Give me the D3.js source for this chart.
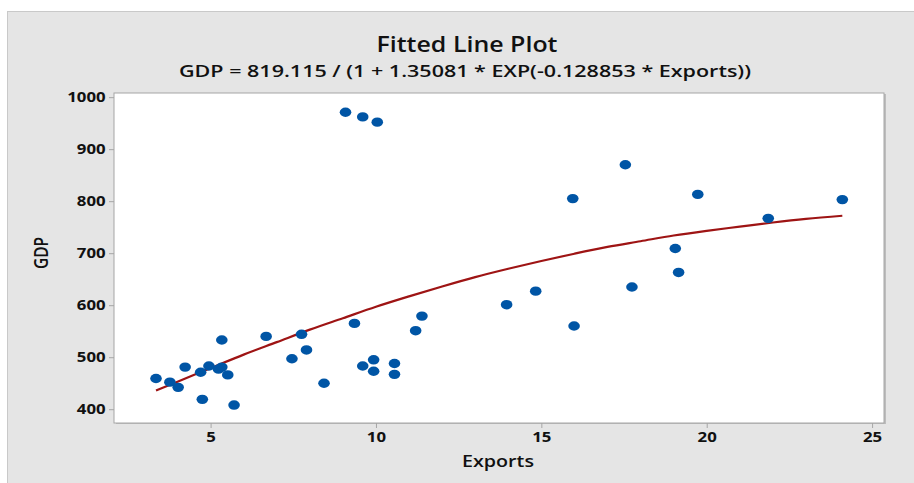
<!DOCTYPE html>
<html>
<head>
<meta charset="utf-8">
<script src="https://cdn.jsdelivr.net/npm/d3@7"></script>
<style>
  body { margin: 0; background: #fff; }
  #chart { width: 914px; height: 483px; }
  text { font-family: "Open Sans", "Noto Sans", sans-serif; }
</style>
</head>
<body>
<div id="chart"></div>
<script>
// observations (Exports, GDP)
const exports_ = [3.35, 3.77, 4.02, 4.23, 4.70, 4.75, 4.95, 5.24, 5.34, 5.34, 5.52, 5.71, 6.68,
  7.46, 7.75, 7.90, 8.43, 9.35, 9.60, 9.93, 9.93, 10.56, 10.56, 11.20, 11.39, 9.08, 9.60, 10.04,
  13.95, 14.83, 15.95, 15.99, 17.54, 17.74, 19.05, 19.15, 19.73, 21.86, 24.10];
const gdp = [459, 452, 442, 481, 471, 419, 483, 477, 481, 533, 466, 408, 540,
  497, 544, 514, 450, 565, 483, 495, 473, 488, 467, 551, 579, 971, 962, 952,
  601, 627, 805, 560, 870, 635, 709, 663, 813, 767, 803];

// fitted curve
const fitX = [3.35, 4, 5, 6, 7, 8, 9, 10, 11, 12, 13, 14, 15, 16, 17, 18, 19, 20, 21, 22, 23, 24.1];
const fitY = [436, 453, 479, 505, 529, 553, 575, 597, 617, 636, 654, 670, 685, 699, 712, 723, 734, 743, 751, 759, 766, 772];

const xTicks = [5, 10, 15, 20, 25];
const yTicks = [400, 500, 600, 700, 800, 900, 1000];

const title = "Fitted Line Plot";
const subtitle = "GDP = 819.115 / (1 + 1.35081 * EXP(-0.128853 * Exports))";

const W = 914, H = 483;
const plot = { left: 114, top: 93, right: 884, bottom: 423 };

const svg = d3.select("#chart").append("svg")
  .attr("width", W)
  .attr("height", H);

// outer gray panel
svg.append("rect")
  .attr("x", 7.5).attr("y", 11.5)
  .attr("width", W - 7).attr("height", H - 11)
  .attr("fill", "#e5e5e5")
  .attr("stroke", "#c9c9c9");

const x = d3.scaleLinear().domain([2.08, 25.36]).range([plot.left, plot.right]);
const y = d3.scaleLinear().domain([373.5, 1008]).range([plot.bottom, plot.top]);

// plot area with a little shadow on the right
svg.append("rect")
  .attr("x", plot.left + 2).attr("y", plot.top + 1)
  .attr("width", plot.right - plot.left).attr("height", plot.bottom - plot.top)
  .attr("fill", "#bdbdbd");
svg.append("rect")
  .attr("x", plot.left).attr("y", plot.top)
  .attr("width", plot.right - plot.left).attr("height", plot.bottom - plot.top)
  .attr("fill", "#fff")
  .attr("stroke", "#a6a6a6");

const xAxis = svg.append("g")
  .attr("transform", `translate(0,${plot.bottom})`)
  .call(d3.axisBottom(x).tickValues(xTicks).tickFormat(d3.format("d")).tickSize(5).tickPadding(4));
const yAxis = svg.append("g")
  .attr("transform", `translate(${plot.left},0)`)
  .call(d3.axisLeft(y).tickValues(yTicks).tickFormat(d3.format("d")).tickSize(5).tickPadding(3));

[xAxis, yAxis].forEach(a => {
  a.select(".domain").remove();
  a.selectAll(".tick line").attr("stroke", "#a6a6a6");
  a.selectAll(".tick text")
    .attr("fill", "#111")
    .attr("font-size", "14px")
    .attr("font-weight", 700)
    .style("font-family", "'Open Sans', sans-serif");
});
// the source picture is stretched sideways a little
xAxis.selectAll(".tick text").attr("transform", "scale(1.2,1)");
yAxis.selectAll(".tick text").attr("transform", "scale(1.2,1)").attr("x", -7);

// fitted line
const line = d3.line().x(d => x(d[0])).y(d => y(d[1])).curve(d3.curveMonotoneX);
svg.append("path")
  .datum(d3.zip(fitX, fitY))
  .attr("d", line)
  .attr("fill", "none")
  .attr("stroke", "#9e1414")
  .attr("stroke-width", 2.2);

// points
svg.append("g").selectAll("ellipse")
  .data(d3.zip(exports_, gdp))
  .enter()
  .append("ellipse")
  .attr("cx", d => x(d[0]))
  .attr("cy", d => y(d[1]))
  .attr("rx", 5.8)
  .attr("ry", 4.7)
  .attr("fill", "#0055a5");

svg.append("text")
  .attr("x", 467).attr("y", 52)
  .attr("text-anchor", "middle")
  .attr("font-size", "22px")
  .attr("font-weight", 600)
  .attr("fill", "#111")
  .attr("textLength", 181)
  .attr("lengthAdjust", "spacingAndGlyphs")
  .text(title);

svg.append("text")
  .attr("x", 465).attr("y", 77)
  .attr("text-anchor", "middle")
  .attr("font-size", "17px")
  .attr("font-weight", 600)
  .attr("fill", "#111")
  .attr("textLength", 572)
  .attr("lengthAdjust", "spacingAndGlyphs")
  .text(subtitle);

svg.append("text")
  .attr("x", 498).attr("y", 467)
  .attr("text-anchor", "middle")
  .attr("font-size", "17px")
  .attr("font-weight", 600)
  .attr("fill", "#111")
  .attr("textLength", 72)
  .attr("lengthAdjust", "spacingAndGlyphs")
  .text("Exports");

svg.append("text")
  .attr("transform", "translate(48,253) rotate(-90)")
  .attr("text-anchor", "middle")
  .attr("font-size", "20px")
  .attr("font-weight", 600)
  .attr("fill", "#111")
  .attr("textLength", 32)
  .attr("lengthAdjust", "spacingAndGlyphs")
  .text("GDP");
</script>
</body>
</html>
